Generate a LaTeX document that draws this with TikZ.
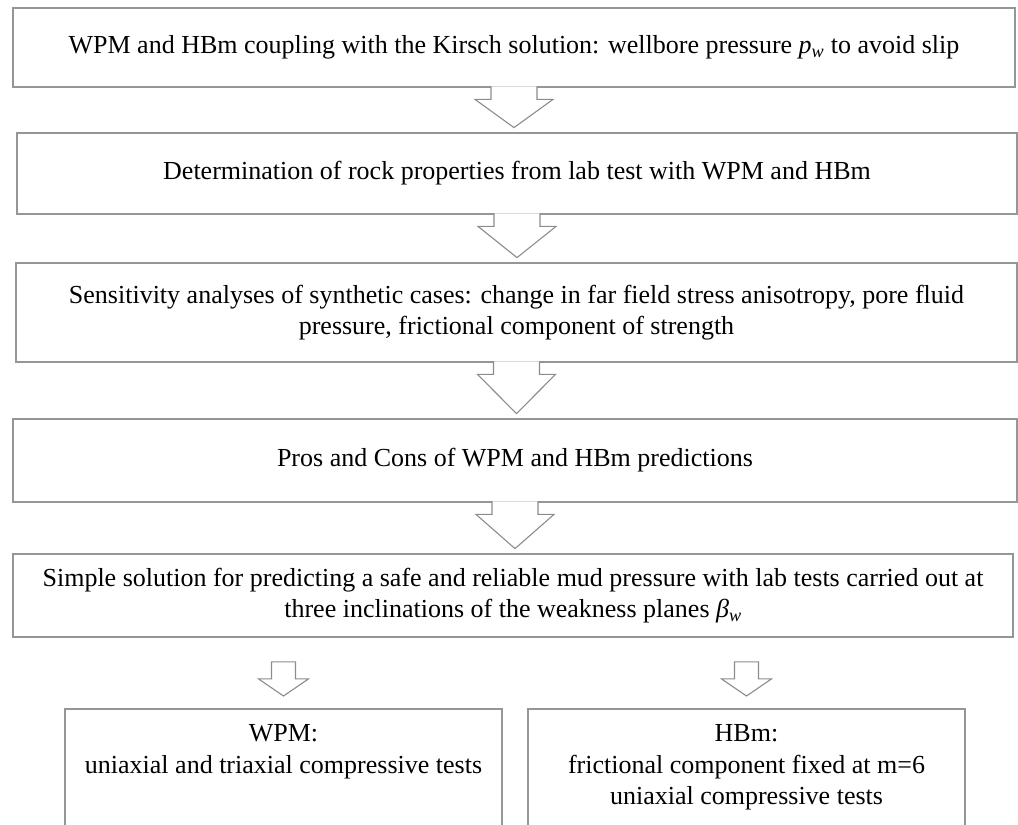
\documentclass[tikz,border=0pt]{standalone}
\usepackage{fontspec}
\setmainfont{Liberation Serif}
\usepackage{tikz}
\usetikzlibrary{calc}

\definecolor{boxgray}{RGB}{150,150,150}
\definecolor{arrowgray}{RGB}{140,140,140}

% open block arrow between two stacked boxes
\newcommand{\flowarrow}[2]{%
  \draw[blockarrow] ($(#1.south)+(-23,-1.5)$) -- ++(0,13) -- ++(-16,0)
    -- ($(#1.south |- #2.north)+(0,-4.5)$)
    -- ($(#1.south)+(39,11.5)$) -- ++(-16,0) -- ++(0,-13);}
% small closed arrow down to a side box
\newcommand{\splitarrow}[2]{%
  \draw[blockarrow] ($(#2.north |- #1.south)+(-12,24)$) -- ++(0,17) -- ++(-13,0)
    -- ($(#2.north)+(0,-12)$)
    -- ($(#2.north |- #1.south)+(25,41)$) -- ++(-13,0) -- ++(0,-17) -- cycle;}

\begin{document}
\begin{tikzpicture}[x=1pt,y=-1pt,
  every node/.style={font=\fontsize{26}{31.5}\selectfont,align=center},
  box/.style={draw=boxgray,line width=1.8pt,rectangle,inner sep=0pt},
  sidebox/.style={box,anchor=north,minimum width=437pt,inner ysep=16pt,text depth=100pt},
  blockarrow/.style={draw=arrowgray,line width=1.1pt,fill=white,line join=miter}]
  \useasboundingbox (0,0) rectangle (1018,825);
  \clip (0,0) rectangle (1018,825);

  \node[box,minimum width=1002pt,minimum height=79pt] (kirsch) at (514,47.5)
    {WPM and HBm coupling with the Kirsch solution: wellbore pressure \textit{p}\textsubscript{\textit{w}} to avoid slip};
  \node[box,minimum width=1000pt,minimum height=81pt] (rockprop) at (517,173.5)
    {Determination of rock properties from lab test with WPM and HBm};
  \node[box,minimum width=1001pt,minimum height=99pt] (sensit) at (516.5,312.5)
    {Sensitivity analyses of synthetic cases: change in far field stress anisotropy, pore fluid\\
     pressure, frictional component of strength};
  \node[box,minimum width=1004pt,minimum height=83pt] (proscons) at (515,460.5)
    {Pros and Cons of WPM and HBm predictions};
  \node[box,minimum width=1000pt,minimum height=83pt] (simple) at (513,595.5)
    {Simple solution for predicting a safe and reliable mud pressure with lab tests carried out at\\
     three inclinations of the weakness planes \textit{β}\textsubscript{\textit{w}}};
  \node[sidebox] (wpm) at (283.5,708)
    {WPM:\\uniaxial and triaxial compressive tests};
  \node[sidebox] (hbm) at (746.5,708)
    {HBm:\\frictional component fixed at m=6\\uniaxial compressive tests};

  \flowarrow{kirsch}{rockprop}
  \flowarrow{rockprop}{sensit}
  \flowarrow{sensit}{proscons}
  \flowarrow{proscons}{simple}
  \splitarrow{simple}{wpm}
  \splitarrow{simple}{hbm}
\end{tikzpicture}
\end{document}
